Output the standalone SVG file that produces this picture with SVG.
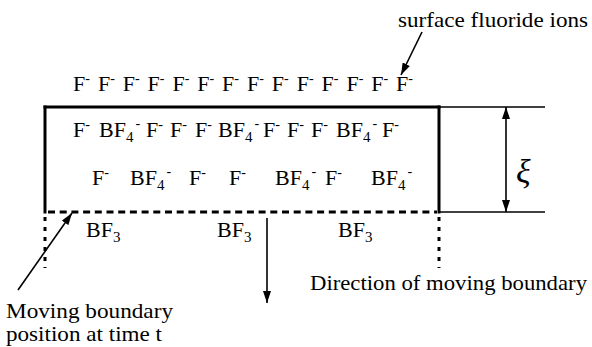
<svg xmlns="http://www.w3.org/2000/svg" width="592" height="347" viewBox="0 0 592 347">
<style>
text{font-family:"Liberation Serif","Times New Roman",serif;fill:#000}
.ion{font-size:22px}
.sup{font-size:14px}
.sub{font-size:15px}
.lbl{font-size:22px}
.thick{stroke:#000;stroke-width:3;fill:none}
.thin{stroke:#000;stroke-width:1.5;fill:none}
.dash{stroke:#000;stroke-width:3;fill:none;stroke-dasharray:7 4.7}
.dot{stroke:#000;stroke-width:3;fill:none;stroke-dasharray:4 6}
.arr{stroke:#000;stroke-width:1.6;fill:none}
</style>
<defs>
<marker id="ah" viewBox="0 0 12 8" refX="12" refY="4" markerWidth="12" markerHeight="8" orient="auto-start-reverse" markerUnits="userSpaceOnUse"><path d="M0,0 L12,4 L0,8 z" fill="#000"/></marker>
</defs>
<rect width="592" height="347" fill="#fff"/>

<g id="box">
<line class="thick" x1="43.5" y1="107" x2="440.5" y2="107"/>
<line class="thick" x1="45" y1="105.5" x2="45" y2="213.5"/>
<line class="thick" x1="439" y1="105.5" x2="439" y2="213.5"/>
<line class="dash" x1="48" y1="212" x2="437" y2="212"/>
<line class="dot" x1="45" y1="217" x2="45" y2="268"/>
<line class="dot" x1="439" y1="217" x2="439" y2="268"/>
<line class="thin" x1="439" y1="107" x2="545" y2="107"/>
<line class="thin" x1="439" y1="212" x2="545" y2="212"/>
</g>

<g id="surface-ions">
<text class="ion" x="73" y="91">F<tspan class="sup" dy="-8">-</tspan></text>
<text class="ion" x="97.9" y="91">F<tspan class="sup" dy="-8">-</tspan></text>
<text class="ion" x="122.7" y="91">F<tspan class="sup" dy="-8">-</tspan></text>
<text class="ion" x="147.6" y="91">F<tspan class="sup" dy="-8">-</tspan></text>
<text class="ion" x="172.4" y="91">F<tspan class="sup" dy="-8">-</tspan></text>
<text class="ion" x="197.3" y="91">F<tspan class="sup" dy="-8">-</tspan></text>
<text class="ion" x="222.1" y="91">F<tspan class="sup" dy="-8">-</tspan></text>
<text class="ion" x="247" y="91">F<tspan class="sup" dy="-8">-</tspan></text>
<text class="ion" x="271.8" y="91">F<tspan class="sup" dy="-8">-</tspan></text>
<text class="ion" x="296.7" y="91">F<tspan class="sup" dy="-8">-</tspan></text>
<text class="ion" x="321.5" y="91">F<tspan class="sup" dy="-8">-</tspan></text>
<text class="ion" x="346.4" y="91">F<tspan class="sup" dy="-8">-</tspan></text>
<text class="ion" x="371.2" y="91">F<tspan class="sup" dy="-8">-</tspan></text>
<text class="ion" x="396" y="91">F<tspan class="sup" dy="-8">-</tspan></text>
</g>

<g id="layer-row1">
<text class="ion" x="73" y="137">F<tspan class="sup" dy="-8">-</tspan></text>
<text class="ion" x="99" y="137">BF<tspan class="sub" dy="5">4</tspan><tspan class="sup" dx="2" dy="-14">-</tspan></text>
<text class="ion" x="146" y="137">F<tspan class="sup" dy="-8">-</tspan></text>
<text class="ion" x="170" y="137">F<tspan class="sup" dy="-8">-</tspan></text>
<text class="ion" x="195" y="137">F<tspan class="sup" dy="-8">-</tspan></text>
<text class="ion" x="218" y="137">BF<tspan class="sub" dy="5">4</tspan><tspan class="sup" dx="2" dy="-14">-</tspan></text>
<text class="ion" x="263" y="137">F<tspan class="sup" dy="-8">-</tspan></text>
<text class="ion" x="287" y="137">F<tspan class="sup" dy="-8">-</tspan></text>
<text class="ion" x="311" y="137">F<tspan class="sup" dy="-8">-</tspan></text>
<text class="ion" x="336" y="137">BF<tspan class="sub" dy="5">4</tspan><tspan class="sup" dx="2" dy="-14">-</tspan></text>
<text class="ion" x="382" y="137">F<tspan class="sup" dy="-8">-</tspan></text>
</g>

<g id="layer-row2">
<text class="ion" x="92" y="185">F<tspan class="sup" dy="-8">-</tspan></text>
<text class="ion" x="130" y="185">BF<tspan class="sub" dy="5">4</tspan><tspan class="sup" dx="2" dy="-14">-</tspan></text>
<text class="ion" x="189" y="185">F<tspan class="sup" dy="-8">-</tspan></text>
<text class="ion" x="229" y="185">F<tspan class="sup" dy="-8">-</tspan></text>
<text class="ion" x="275" y="185">BF<tspan class="sub" dy="5">4</tspan><tspan class="sup" dx="2" dy="-14">-</tspan></text>
<text class="ion" x="325" y="185">F<tspan class="sup" dy="-8">-</tspan></text>
<text class="ion" x="371" y="185">BF<tspan class="sub" dy="5">4</tspan><tspan class="sup" dx="2" dy="-14">-</tspan></text>
</g>

<g id="bf3">
<text class="ion" x="86" y="237">BF<tspan class="sub" dy="5">3</tspan></text>
<text class="ion" x="217" y="237">BF<tspan class="sub" dy="5">3</tspan></text>
<text class="ion" x="338" y="237">BF<tspan class="sub" dy="5">3</tspan></text>
</g>

<g id="xi"><text x="516" y="183" font-size="34" font-style="italic">ξ</text></g>

<g id="labels">
<text class="lbl" x="398" y="27" textLength="190" lengthAdjust="spacingAndGlyphs">surface fluoride ions</text>
<text class="lbl" x="310" y="290" textLength="277" lengthAdjust="spacingAndGlyphs">Direction of moving boundary</text>
<text class="lbl" x="6" y="318" textLength="167" lengthAdjust="spacingAndGlyphs">Moving boundary</text>
<text class="lbl" x="6" y="341" textLength="156" lengthAdjust="spacingAndGlyphs">position at time t</text>
</g>

<g id="connectors">
<line class="arr" x1="422" y1="32" x2="401" y2="75" marker-end="url(#ah)"/>
<line class="arr" x1="18" y1="290" x2="72" y2="213" marker-end="url(#ah)"/>
<line class="arr" x1="267" y1="218" x2="267" y2="303" marker-end="url(#ah)"/>
<line class="arr" x1="506" y1="107" x2="506" y2="212" marker-start="url(#ah)" marker-end="url(#ah)"/>
</g>
</svg>
